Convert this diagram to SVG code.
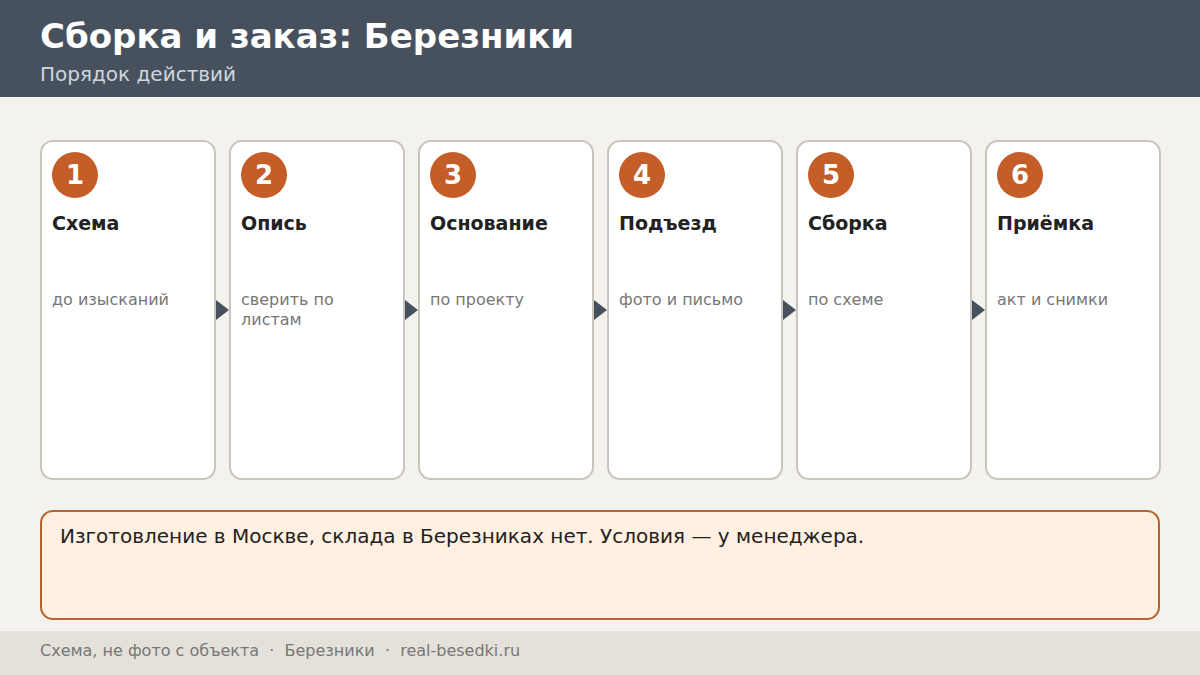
<svg xmlns="http://www.w3.org/2000/svg" width="1200" height="675" viewBox="0 0 1200 675">
<defs>
<style>
text{font-family:"DejaVu Sans","Noto Sans",sans-serif}
.card{fill:#ffffff;stroke:#c9c5bd;stroke-width:2}
.badge{fill:#c45d27}
.num{fill:#ffffff;font-size:26px;font-weight:bold;text-anchor:middle}
.ttl{fill:#222222;font-size:19px;font-weight:bold}
.dsc{fill:#777777;font-size:16px}
.arr{fill:#47515e}
</style>
</defs>
<rect x="0" y="0" width="1200" height="675" fill="#f4f2ed"/>
<rect x="0" y="0" width="1200" height="97" fill="#47515e"/>
<text x="40" y="48" font-size="34" font-weight="bold" fill="#ffffff">Сборка и заказ: Березники</text>
<text x="40" y="81" font-size="20" fill="#cfd6de">Порядок действий</text>

<g id="connectors">
<polygon class="arr" points="216,300 229,310 216,320"/>
<polygon class="arr" points="405,300 418,310 405,320"/>
<polygon class="arr" points="594,300 607,310 594,320"/>
<polygon class="arr" points="783,300 796,310 783,320"/>
<polygon class="arr" points="972,300 985,310 972,320"/>
</g>

<g id="step1">
<rect class="card" x="41" y="141" width="174" height="338" rx="12"/>
<circle class="badge" cx="75" cy="175" r="23"/>
<text class="num" x="75" y="184">1</text>
<text class="ttl" x="52" y="230">Схема</text>
<text class="dsc" x="52" y="305">до изысканий</text>
</g>
<g id="step2">
<rect class="card" x="230" y="141" width="174" height="338" rx="12"/>
<circle class="badge" cx="264" cy="175" r="23"/>
<text class="num" x="264" y="184">2</text>
<text class="ttl" x="241" y="230">Опись</text>
<text class="dsc" x="241" y="305">сверить по</text>
<text class="dsc" x="241" y="325">листам</text>
</g>
<g id="step3">
<rect class="card" x="419" y="141" width="174" height="338" rx="12"/>
<circle class="badge" cx="453" cy="175" r="23"/>
<text class="num" x="453" y="184">3</text>
<text class="ttl" x="430" y="230">Основание</text>
<text class="dsc" x="430" y="305">по проекту</text>
</g>
<g id="step4">
<rect class="card" x="608" y="141" width="174" height="338" rx="12"/>
<circle class="badge" cx="642" cy="175" r="23"/>
<text class="num" x="642" y="184">4</text>
<text class="ttl" x="619" y="230">Подъезд</text>
<text class="dsc" x="619" y="305">фото и письмо</text>
</g>
<g id="step5">
<rect class="card" x="797" y="141" width="174" height="338" rx="12"/>
<circle class="badge" cx="831" cy="175" r="23"/>
<text class="num" x="831" y="184">5</text>
<text class="ttl" x="808" y="230">Сборка</text>
<text class="dsc" x="808" y="305">по схеме</text>
</g>
<g id="step6">
<rect class="card" x="986" y="141" width="174" height="338" rx="12"/>
<circle class="badge" cx="1020" cy="175" r="23"/>
<text class="num" x="1020" y="184">6</text>
<text class="ttl" x="997" y="230">Приёмка</text>
<text class="dsc" x="997" y="305">акт и снимки</text>
</g>

<g id="note">
<rect x="41" y="511" width="1118" height="108" rx="12" fill="#fff0e1" stroke="#b6632f" stroke-width="2"/>
<text x="60" y="543" font-size="20" fill="#222222">Изготовление в Москве, склада в Березниках нет. Условия — у менеджера.</text>
</g>

<rect x="0" y="631" width="1200" height="44" fill="#e4e1da"/>
<text x="40" y="656" font-size="16" fill="#777777" xml:space="preserve">Схема, не фото с объекта  ·  Березники  ·  real-besedki.ru</text>
</svg>
